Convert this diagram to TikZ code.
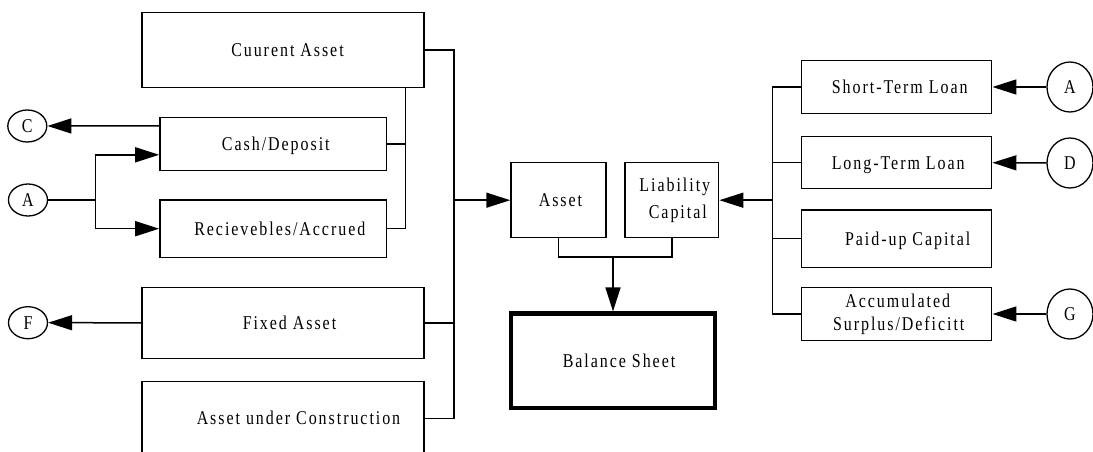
\documentclass[tikz,border=0pt]{standalone}
\usepackage{fontspec}
\setmainfont{Liberation Serif}[FakeStretch=0.82,LetterSpace=10]
\usetikzlibrary{arrows.meta,shapes.geometric}
\begin{document}
\begin{tikzpicture}[x=1pt,y=-1pt,
  txt/.style={font=\fontsize{19.5}{24}\selectfont},
  box/.style={txt,draw,line width=1.5pt,inner sep=0pt},
  sbox/.style={box,text height=12.9pt,text depth=0pt},
  tagL/.style={txt,draw,ellipse,line width=1.3pt,inner sep=0pt,minimum width=39,minimum height=32,text height=12.9pt,text depth=0pt},
  tagR/.style={tagL,minimum width=46,minimum height=50},
  wire/.style={line width=1.5pt},
  arr/.style={wire,-{Triangle[length=24pt,width=15pt]}}]
\clip (0,0) rectangle (1093,452);

% asset side
\node[sbox,minimum width=282,minimum height=75] (cur) at (283,49.8) {\hspace*{9pt}Cuurent Asset};
\node[sbox,minimum width=226.7,minimum height=53] (cash) at (273.3,143.8) {\hspace*{5pt}Cash/Deposit};
\node[sbox,minimum width=226.7,minimum height=57.3] (recv) at (273.3,228.7) {\hspace*{13pt}Recievebles/Accrued};
\node[sbox,minimum width=282,minimum height=71] (fixed) at (283,322.8) {\hspace*{13pt}Fixed Asset};
\node[sbox,minimum width=282,minimum height=73.3] (acon) at (283,418.3) {\hspace*{31pt}Asset under Construction};

% centre
\node[sbox,minimum width=95,minimum height=75] (asset) at (558.5,200.2) {\hspace*{4pt}Asset};
\node[box,align=center,minimum width=93.7,minimum height=75] (liab) at (671.8,200.2)
  {\hspace*{6pt}Liability\\[2.7pt]\hspace*{12pt}Capital};
\node[sbox,line width=4.5pt,minimum width=204,minimum height=94.3] (bs) at (613,360.8) {\hspace*{12pt}Balance Sheet};

% liability side
\node[sbox,minimum width=190,minimum height=52.6] (stl) at (896.7,87) {\hspace*{6pt}Short-Term Loan};
\node[sbox,minimum width=190,minimum height=52] (ltl) at (896.7,162.7) {\hspace*{3pt}Long-Term Loan};
\node[sbox,minimum width=190,minimum height=57.3] (puc) at (896.7,238.7) {\hspace*{22pt}Paid-up Capital};
\node[box,align=center,minimum width=190,minimum height=53.4] (acc) at (896.7,314)
  {\hspace*{2pt}Accumulated\\[-1pt]\hspace*{4pt}Surplus/Deficitt};

% reference tags
\node[tagL] (c) at (27.3,126) {C};
\node[tagL] (aL) at (28,200) {A};
\node[tagL] (f) at (28,322.7) {F};
\node[tagR] (aR) at (1070,87) {A};
\node[tagR] (d) at (1070,163) {D};
\node[tagR] (g) at (1070,314) {G};

% bus lines
\coordinate (bL) at (454,0);
\coordinate (bI) at (405.7,0);
\coordinate (ja) at (95.7,0);
\coordinate (jb) at (613,257);
\coordinate (bR) at (772.3,0);

% asset side wiring
\draw[wire] (cur.east) -| (bL |- acon.east) -- (acon.east);
\draw[wire] (fixed.east) -- (bL |- fixed.east);
\draw[arr] (bL |- asset.west) -- (asset.west);
\draw[wire] (bI |- cur.south) -- (bI |- recv.east) -- (recv.east);
\draw[wire] (cash.east) -- (bI |- cash.east);
\draw[wire] (aL.east) -- (ja |- aL.east);
\draw[arr] (ja |- aL.east) |- ([yshift=-11pt]cash.west);
\draw[arr] (ja |- aL.east) |- (recv.west);
\draw[arr] ([yshift=18pt]cash.west) -- (c.east);
\draw[arr] (fixed.west) -- (f.east);

% into the balance sheet
\draw[wire] (asset.south) |- (liab.south |- jb) -- (liab.south);
\draw[arr] (jb) -- (bs.north);

% liability side wiring
\draw[wire] (stl.west) -| (bR |- acc.west) -- (acc.west);
\draw[wire] (ltl.west) -- (bR |- ltl.west);
\draw[wire] (puc.west) -- (bR |- puc.west);
\draw[arr] (bR |- liab.east) -- (liab.east);
\draw[arr] (aR.west) -- (stl.east);
\draw[arr] (d.west) -- (ltl.east);
\draw[arr] (g.west) -- (acc.east);
\end{tikzpicture}
\end{document}
